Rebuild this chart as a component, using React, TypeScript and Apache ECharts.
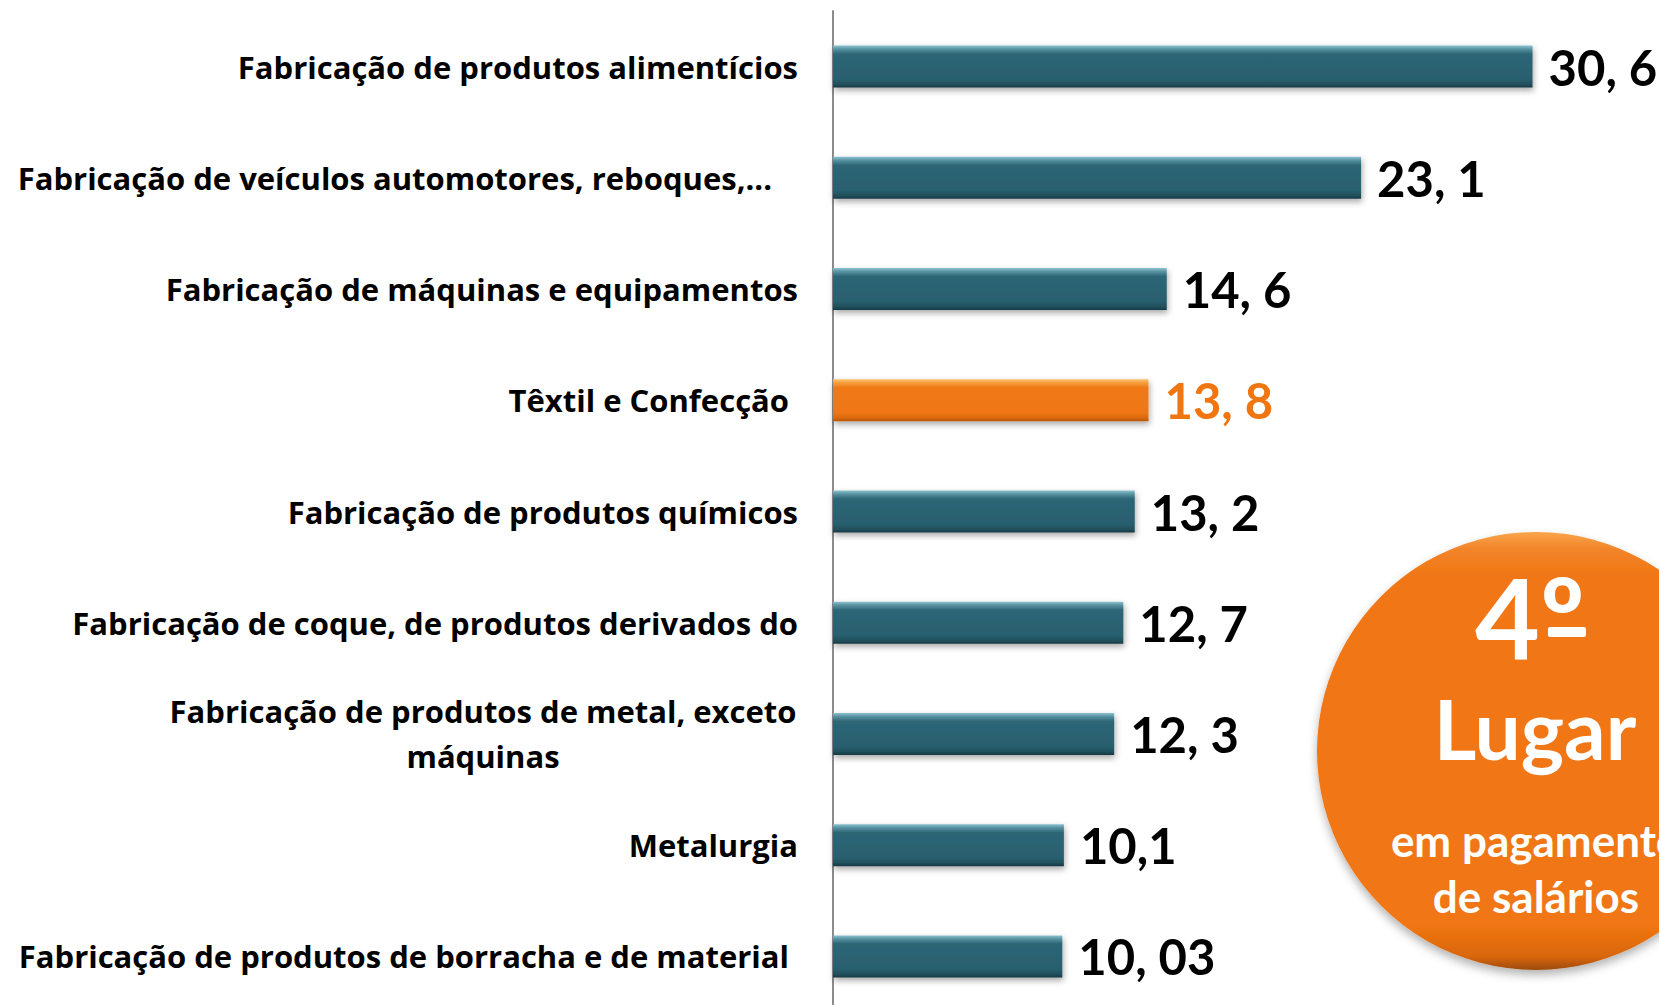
import React, { useEffect, useRef } from "react";
import * as echarts from "echarts";

const categories = [
  "Fabricação de produtos alimentícios",
  "Fabricação de veículos automotores, reboques,...",
  "Fabricação de máquinas e equipamentos",
  "Têxtil e Confecção",
  "Fabricação de produtos químicos",
  "Fabricação de coque, de produtos derivados do",
  "Fabricação de produtos de metal, exceto\nmáquinas",
  "Metalurgia",
  "Fabricação de produtos de borracha e de material",
];
const values = [30.6, 23.1, 14.6, 13.8, 13.2, 12.7, 12.3, 10.1, 10.03];
const valueLabels = ["30, 6", "23, 1", "14, 6", "13, 8", "13, 2", "12, 7", "12, 3", "10,1", "10, 03"];
const highlightCategory = "Têxtil e Confecção";
const badgeLines = ["4º", "Lugar", "em pagamento", "de salários"];

// style-only: extra right gap for some category labels (trailing spaces in original)
const labelGap: Record<string, string> = {
  "Fabricação de veículos automotores, reboques,...": "g26",
  "Têxtil e Confecção": "g9",
  "Fabricação de produtos de borracha e de material": "g9",
};

const CAT_FONT = "'Open Sans', Lato, sans-serif";
const FONT = "Lato, 'Open Sans', sans-serif";
const TEAL = new echarts.graphic.LinearGradient(0, 0, 0, 1, [
  { offset: 0, color: "#8cc3d0" },
  { offset: 0.08, color: "#5a94a3" },
  { offset: 0.2, color: "#2d6676" },
  { offset: 0.8, color: "#285f6e" },
  { offset: 0.92, color: "#21505d" },
  { offset: 1, color: "#173944" },
]);
const ORANGE = new echarts.graphic.LinearGradient(0, 0, 0, 1, [
  { offset: 0, color: "#fcc070" },
  { offset: 0.08, color: "#f7a040" },
  { offset: 0.2, color: "#f07915" },
  { offset: 0.8, color: "#f07612" },
  { offset: 0.92, color: "#d9680e" },
  { offset: 1, color: "#b3560a" },
]);

export default function App() {
  const ref = useRef<HTMLDivElement>(null);
  useEffect(() => {
    if (!ref.current) return;
    const chart = echarts.init(ref.current, undefined, { renderer: "svg" });
    const data = values.map((v, i) => {
      const hi = categories[i] === highlightCategory;
      return {
        value: v,
        itemStyle: { color: hi ? ORANGE : TEAL },
        label: { color: hi ? "#f07612" : "#000000" },
      };
    });
    const option: any = {
      animation: false,
      backgroundColor: "#ffffff",
      grid: { left: 833, top: 11, height: 1001, right: 3, outerBoundsMode: "none", containLabel: false },
      xAxis: { type: "value", min: 0, max: 36, show: false },
      yAxis: {
        type: "category",
        inverse: true,
        data: categories,
        axisLine: { show: true, lineStyle: { color: "#8c8c8c", width: 2 } },
        axisTick: { show: false },
        splitLine: { show: false },
        axisLabel: {
          margin: 35,
          interval: 0,
          formatter: (val: string) => {
            const lines = val.split("\n");
            if (lines.length > 1) return lines.map((l) => `{c|${l}}`).join("\n");
            const gap = labelGap[val];
            return gap ? `{n|${val}}{${gap}| }` : `{n|${val}}`;
          },
          rich: {
            n: { fontFamily: CAT_FONT, fontWeight: "bold", fontSize: 31, color: "#000" },
            c: {
              fontFamily: CAT_FONT,
              fontWeight: "bold",
              fontSize: 31,
              color: "#000",
              width: 630,
              align: "center",
              lineHeight: 45,
            },
            g26: { width: 26, fontSize: 31 },
            g9: { width: 9, fontSize: 31 },
          },
        },
      },
      series: [
        {
          type: "bar",
          data,
          barWidth: 42,
          itemStyle: {
            shadowColor: "rgba(0,0,0,0.35)",
            shadowBlur: 6,
            shadowOffsetY: 3,
            shadowOffsetX: 1,
          },
          label: {
            show: true,
            position: "right",
            distance: 16,
            fontFamily: FONT,
            fontWeight: "bold",
            fontSize: 49,
            formatter: (p: any) => valueLabels[p.dataIndex],
          },
        },
      ],
      graphic: [
        {
          type: "circle",
          shape: { cx: 1536, cy: 751, r: 219 },
          style: {
            fill: new echarts.graphic.LinearGradient(0, 0, 0, 1, [
              { offset: 0, color: "#f9a54a" },
              { offset: 0.04, color: "#f2842a" },
              { offset: 0.1, color: "#f07612" },
              { offset: 0.9, color: "#f07612" },
              { offset: 0.97, color: "#d8660d" },
              { offset: 1, color: "#9c4a08" },
            ]),
            shadowColor: "rgba(0,0,0,0.3)",
            shadowBlur: 10,
            shadowOffsetY: 5,
          },
        },
        {
          type: "text",
          x: 1530,
          y: 616,
          style: {
            text: badgeLines[0],
            fill: "#fff",
            font: `bold 112px ${FONT}`,
            textAlign: "center",
            textVerticalAlign: "middle",
          },
        },
        {
          type: "rect",
          shape: { x: 1548, y: 627, width: 38, height: 10, r: 2 },
          style: { fill: "#fff" },
        },
        {
          type: "text",
          x: 1535,
          y: 728,
          style: {
            text: badgeLines[1],
            fill: "#fff",
            font: `bold 82px ${FONT}`,
            textAlign: "center",
            textVerticalAlign: "middle",
          },
        },
        {
          type: "text",
          x: 1536,
          y: 840,
          style: {
            text: badgeLines[2],
            fill: "#fff",
            font: `bold 44px ${FONT}`,
            textAlign: "center",
            textVerticalAlign: "middle",
          },
        },
        {
          type: "text",
          x: 1536,
          y: 896,
          style: {
            text: badgeLines[3],
            fill: "#fff",
            font: `bold 44px ${FONT}`,
            textAlign: "center",
            textVerticalAlign: "middle",
          },
        },
      ],
    };
    chart.setOption(option);
    return () => chart.dispose();
  }, []);
  return (
    <div
      ref={ref}
      style={{ position: "fixed", left: 0, top: 0, width: 1659, height: 1005, background: "#fff" }}
    />
  );
}
